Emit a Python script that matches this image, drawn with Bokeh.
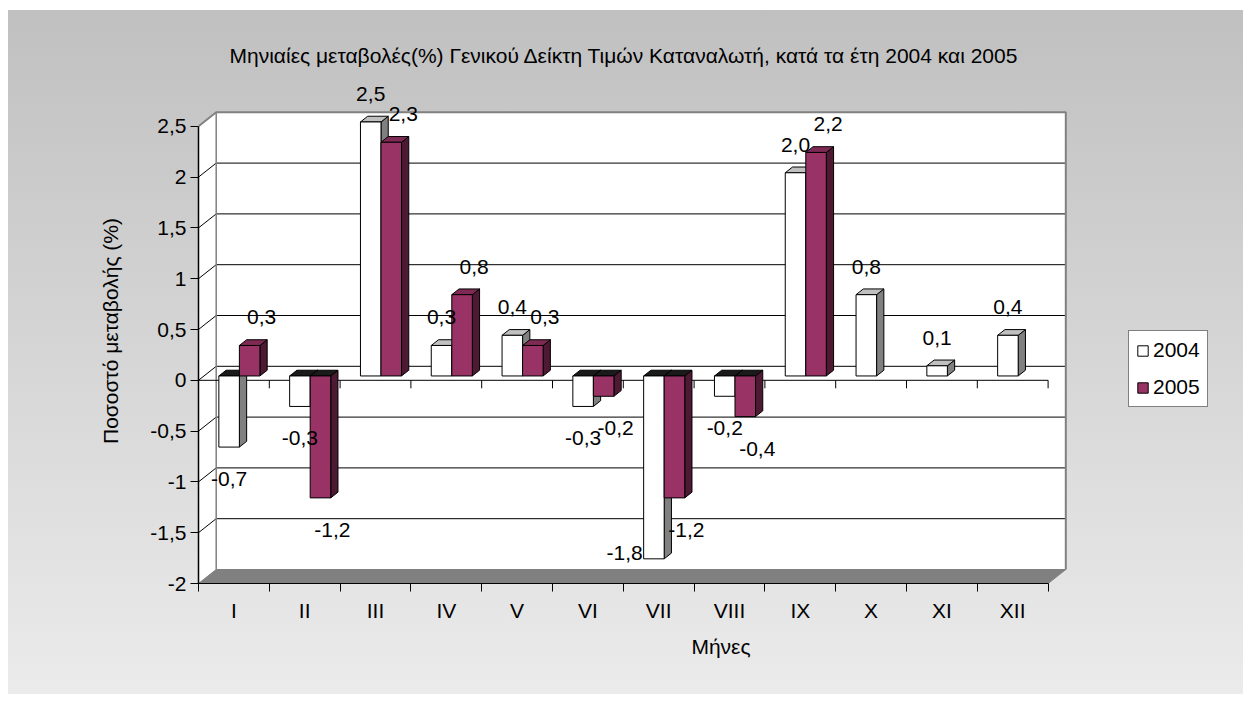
import math
from bokeh.plotting import figure
from bokeh.models import Range1d, FixedTicker, Legend, LegendItem, LinearAxis, ColumnDataSource
from bokeh.core.properties import value
from bokeh.embed import file_html
from bokeh.resources import INLINE

# ---------------- data ----------------
months = ["I", "II", "III", "IV", "V", "VI", "VII", "VIII", "IX", "X", "XI", "XII"]
values_2004 = [-0.7, -0.3, 2.5, 0.3, 0.4, -0.3, -1.8, -0.2, 2.0, 0.8, 0.1, 0.4]
values_2005 = [0.3, -1.2, 2.3, 0.8, 0.3, -0.2, -1.2, -0.4, 2.2, None, None, None]
series_names = ["2004", "2005"]
y_ticks = [-2, -1.5, -1, -0.5, 0, 0.5, 1, 1.5, 2, 2.5]

title_text = "Μηνιαίες μεταβολές(%) Γενικού Δείκτη Τιμών Καταναλωτή, κατά τα έτη 2004 και 2005"
x_title = "Μήνες"
y_title = "Ποσοστό μεταβολής (%)"

# ---------------- layout / style ----------------
FONT = "Liberation Sans"
FS = "21px"
W, H = 1243, 694
B_LEFT, B_BOTTOM, B_TOP = 198, 111, 78
PX_X = 70.8     # pixels per category
PX_Y = 101.6    # pixels per value unit
frame_w = W - B_LEFT
frame_h = H - B_BOTTOM - B_TOP
Y_MIN, Y_MAX = y_ticks[0], y_ticks[-1]
n = len(months)

def dx(px):
    return px / PX_X

def dy(px):
    return px / PX_Y

DX, DY = dx(17.7), dy(14)          # depth of the walls
F0, F1 = 0.31, 0.72                # depth span of bars
ox0, oy0 = F0 * DX, F0 * DY
ox1, oy1 = F1 * DX, F1 * DY
BAR_W = 0.29
BAR_START = 0.21

FRONT = ["white", "#993366"]
TOP = ["#c0c0c0", "#7f2a55"]
SIDE = ["#808080", "#4d1933"]
NEG_TOP = "#1a1a1a"

p = figure(width=W, height=H, output_backend="svg", toolbar_location=None,
           x_range=Range1d(0, frame_w / PX_X),
           y_range=Range1d(Y_MIN, Y_MIN + frame_h / PX_Y),
           min_border_left=B_LEFT, min_border_right=0,
           min_border_top=B_TOP, min_border_bottom=B_BOTTOM)
p.styles = {
    "background-image": "linear-gradient(to bottom, #c0c0c0, #ebebeb)",
    "background-position": "8px 10px",
    "background-size": "calc(100% - 8px) calc(100% - 10px)",
    "background-repeat": "no-repeat",
}
p.background_fill_color = None
p.border_fill_color = None
p.outline_line_color = None
p.xgrid.visible = False
p.ygrid.visible = False

# title
p.title.text = title_text
p.title.text_font = FONT
p.title.text_font_size = FS
p.title.text_font_style = "normal"
p.title.text_color = "black"
p.title.align = "left"
p.title.offset = 31
p.title.standoff = 23

# ---------------- walls ----------------
bx0, bx1 = DX, n + DX
by0, by1 = Y_MIN + DY, Y_MAX + DY
p.patch([bx0, bx1, bx1, bx0], [by0, by0, by1, by1], fill_color="white", line_color=None)
p.patch([0, 0, DX, DX], [Y_MIN, Y_MAX, by1, by0], fill_color="white", line_color=None)

gv = [t for t in y_ticks if Y_MIN < t < Y_MAX]
p.segment(x0=[bx0] * len(gv), y0=[g + DY for g in gv], x1=[bx1] * len(gv),
          y1=[g + DY for g in gv], line_color="black", line_width=1)
p.segment(x0=[0] * len(gv), y0=gv, x1=[DX] * len(gv), y1=[g + DY for g in gv],
          line_color="black", line_width=1)
p.line([0, DX, bx1, bx1], [Y_MAX, by1, by1, by0], line_color="#808080", line_width=2)
p.line([DX, DX], [by0, by1], line_color="#808080", line_width=1.5)

# floor
p.patch([0, n, n + DX, DX], [Y_MIN, Y_MIN, by0, by0], fill_color="#808080", line_color="#808080")

# front zero axis
p.line([0, n], [0, 0], line_color="black", line_width=1)
p.segment(x0=list(range(n + 1)), y0=[0] * (n + 1), x1=list(range(n + 1)),
          y1=[-dy(8)] * (n + 1), line_color="black", line_width=1)

# ---------------- bars ----------------
all_series = [values_2004, values_2005]
side_xs, side_ys, side_c = [], [], []
top_xs, top_ys, top_c = [], [], []
fronts = [dict(l=[], r=[], b=[], t=[]) for _ in all_series]
lab_x, lab_y, lab_t = [], [], []
lab2_x, lab2_y, lab2_t = [], [], []

for s, vals in enumerate(all_series):
    for i, v in enumerate(vals):
        if v is None:
            continue
        a = i + BAR_START + BAR_W * s
        b = a + BAR_W
        lo, hi = min(0, v), max(0, v)
        fronts[s]["l"].append(a + ox0)
        fronts[s]["r"].append(b + ox0)
        fronts[s]["b"].append(lo + oy0)
        fronts[s]["t"].append(hi + oy0)
        side_xs.append([b + ox0, b + ox1, b + ox1, b + ox0])
        side_ys.append([lo + oy0, lo + oy1, hi + oy1, hi + oy0])
        side_c.append(SIDE[s])
        top_xs.append([a + ox0, b + ox0, b + ox1, a + ox1])
        top_ys.append([hi + oy0, hi + oy0, hi + oy1, hi + oy1])
        top_c.append(TOP[s] if v > 0 else NEG_TOP)
        # data label
        txt = f"{v:.1f}".replace(".", ",")
        cx = (a + b) / 2 + ox0 + (dx(12) if s == 1 else 0)
        if v >= 0:
            ly = v + oy0 + dy(28)
        else:
            ly = v + oy0 - dy(32)
        if v < 0 and ly - dy(10) < by0:
            lab2_x.append(a + ox0 - dx(1))
            lab2_y.append(v + oy0 + dy(6))
            lab2_t.append(txt)
        else:
            lab_x.append(cx)
            lab_y.append(ly)
            lab_t.append(txt)

p.patches(xs=side_xs, ys=side_ys, fill_color=side_c, line_color="black", line_width=1)
p.patches(xs=top_xs, ys=top_ys, fill_color=top_c, line_color="black", line_width=1)
front_r = []
for s in range(len(all_series)):
    src = ColumnDataSource(dict(left=fronts[s]["l"], right=fronts[s]["r"],
                                bottom=fronts[s]["b"], top=fronts[s]["t"]))
    r = p.quad(left="left", right="right", bottom="bottom", top="top", source=src,
               fill_color=FRONT[s], line_color="black", line_width=1)
    front_r.append(r)

p.text(x=lab_x, y=lab_y, text=lab_t, text_font=value(FONT), text_font_size=FS,
       text_align="center", text_baseline="middle", text_color="black")
p.text(x=lab2_x, y=lab2_y, text=lab2_t, text_font=value(FONT), text_font_size=FS,
       text_align="right", text_baseline="middle", text_color="black")

# ---------------- axes ----------------
xa = p.xaxis[0]
xa.ticker = FixedTicker(ticks=[i + 0.5 for i in range(n)], minor_ticks=list(range(n + 1)))
xa.major_label_overrides = {i + 0.5: m for i, m in enumerate(months)}
xa.bounds = (0, n)
xa.major_tick_out = 0
xa.major_tick_in = 0
xa.minor_tick_out = 8
xa.minor_tick_in = 0
xa.minor_tick_line_color = "black"
xa.axis_line_color = "black"
xa.major_label_text_font = FONT
xa.major_label_text_font_size = FS
xa.major_label_text_color = "black"
xa.major_label_standoff = 7
xa.axis_label = x_title
xa.axis_label_text_font = FONT
xa.axis_label_text_font_size = FS
xa.axis_label_text_font_style = "normal"
xa.axis_label_text_color = "black"
xa.axis_label_standoff = 10

ya = p.yaxis[0]
ya.ticker = FixedTicker(ticks=y_ticks, minor_ticks=[])
ya.major_label_overrides = {t: f"{t}".replace(".", ",") for t in y_ticks}
ya.bounds = (Y_MIN, Y_MAX)
ya.major_tick_out = 8
ya.major_tick_in = 0
ya.minor_tick_out = 0
ya.minor_tick_in = 0
ya.major_tick_line_color = "black"
ya.axis_line_color = "black"
ya.axis_line_width = 1.5
ya.major_label_text_font = FONT
ya.major_label_text_font_size = FS
ya.major_label_text_color = "black"
ya.major_label_standoff = 4

# second (title-only) y axis, to carry the axis title at its place
ya2 = LinearAxis(ticker=FixedTicker(ticks=[], minor_ticks=[]), bounds=(-1.5, 2.5),
                 axis_line_color=None, major_tick_line_color=None, minor_tick_line_color=None,
                 major_label_text_alpha=0, axis_label=y_title,
                 axis_label_text_font=FONT, axis_label_text_font_size=FS,
                 axis_label_text_font_style="normal", axis_label_text_color="black",
                 axis_label_standoff=26)
_props = ya2.properties()
if "axis_label_background_fill_color" in _props:
    ya2.axis_label_background_fill_color = "white"
if "axis_label_padding" in _props:
    ya2.axis_label_padding = 5
p.add_layout(ya2, "left")

# ---------------- legend ----------------
legend = Legend(items=[LegendItem(label=series_names[s], renderers=[front_r[s]]) for s in range(2)],
                location=(930, 176))
legend.label_text_font = FONT
legend.label_text_font_size = FS
legend.label_text_color = "black"
legend.border_line_color = "black"
legend.border_line_width = 1
legend.background_fill_color = "white"
legend.background_fill_alpha = 1
legend.glyph_width = 13
legend.glyph_height = 13
legend.label_height = 24
legend.label_standoff = 4
legend.spacing = 13
legend.padding = 7
legend.margin = 0
p.add_layout(legend)

open("out.html", "w").write(file_html(p, INLINE))
